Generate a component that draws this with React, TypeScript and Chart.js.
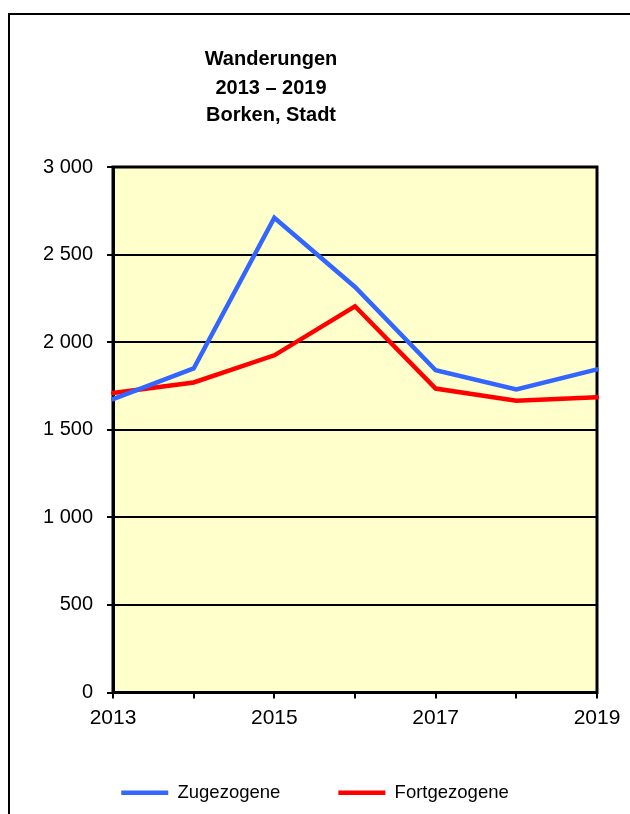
import React, { useEffect, useRef } from "react";
import { Chart, registerables } from "chart.js";

Chart.register(...registerables);

const years = ["2013", "2014", "2015", "2016", "2017", "2018", "2019"];
const zugezogene = [1675, 1850, 2710, 2315, 1840, 1730, 1845];
const fortgezogene = [1710, 1770, 1925, 2205, 1735, 1665, 1685];
const titleLines = ["Wanderungen", "2013 – 2019", "Borken, Stadt"];
const yMin = 0;
const yMax = 3000;
const yStep = 500;

const FONT = '"Liberation Sans", Arial, sans-serif';

function fmt(v: number): string {
  return String(v).replace(/\B(?=(\d{3})+(?!\d))/g, " ");
}

export default function App() {
  const ref = useRef<HTMLCanvasElement | null>(null);

  useEffect(() => {
    if (!ref.current) return;
    const bgPlugin = {
      id: "bgPlugin",
      beforeDraw(chart: any) {
        const { ctx, chartArea: a } = chart;
        ctx.save();
        ctx.fillStyle = "#FFFFCC";
        ctx.fillRect(a.left, a.top, a.right - a.left, a.bottom - a.top);
        ctx.restore();
      },
      beforeDatasetsDraw(chart: any) {
        const { ctx, chartArea: a } = chart;
        ctx.save();
        ctx.strokeStyle = "#000";
        ctx.lineWidth = 3;
        ctx.strokeRect(a.left, a.top, a.right - a.left, a.bottom - a.top);
        ctx.restore();
      },
      afterDraw(chart: any) {
        const { ctx } = chart;
        ctx.save();
        ctx.fillStyle = "#000";
        ctx.font = `bold 20px ${FONT}`;
        ctx.textAlign = "center";
        ctx.textBaseline = "alphabetic";
        const baselines = [65, 94, 120.5];
        titleLines.forEach((t, i) => ctx.fillText(t, 271, baselines[i]));
        ctx.restore();
      },
    };

    const chart = new Chart(ref.current, {
      type: "line",
      data: {
        labels: years,
        datasets: [
          {
            label: "Zugezogene",
            data: zugezogene,
            borderColor: "#3366FF",
            backgroundColor: "#3366FF",
            borderWidth: 4.5,
            pointRadius: 0,
            tension: 0,
            borderCapStyle: "round",
          },
          {
            label: "Fortgezogene",
            data: fortgezogene,
            borderColor: "#FF0000",
            backgroundColor: "#FF0000",
            borderWidth: 4.5,
            pointRadius: 0,
            tension: 0,
            borderCapStyle: "round",
          },
        ],
      },
      options: {
        animation: false,
        responsive: true,
        maintainAspectRatio: false,
        layout: { padding: { left: 33, right: 33, top: 167, bottom: 2 } },
        plugins: {
          title: { display: false },
          tooltip: { enabled: false },
          legend: {
            position: "bottom",
            labels: {
              usePointStyle: true,
              pointStyle: "line",
              pointStyleWidth: 47,
              padding: 58,
              color: "#000",
              font: { family: FONT, size: 18.5 },
            },
          },
        },
        scales: {
          x: {
            type: "category",
            offset: false,
            afterFit: (s: any) => {
              s.height = 33;
            },
            grid: {
              drawOnChartArea: false,
              drawTicks: true,
              tickLength: 6,
              color: "#000",
              lineWidth: 2,
            },
            border: { display: true, color: "#000", width: 3 },
            ticks: {
              autoSkip: false,
              maxRotation: 0,
              padding: 7,
              color: "#000",
              font: { family: FONT, size: 21 },
              callback: (_v: any, i: number) => (i % 2 === 0 ? years[i] : ""),
            },
          },
          y: {
            min: yMin,
            max: yMax,
            afterFit: (s: any) => {
              s.width = 80;
            },
            grid: {
              drawTicks: true,
              tickLength: 6,
              color: "#000",
              lineWidth: 2,
            },
            border: { display: true, color: "#000", width: 3 },
            ticks: {
              stepSize: yStep,
              padding: 14,
              color: "#000",
              font: { family: FONT, size: 20 },
              callback: (v: any) => fmt(Number(v)),
            },
          },
        },
      },
      plugins: [bgPlugin],
    });
    return () => chart.destroy();
  }, []);

  return (
    <div
      style={{
        position: "absolute",
        left: 0,
        top: 0,
        width: 630,
        height: 814,
        overflow: "hidden",
        background: "#fff",
      }}
    >
      <div
        style={{
          position: "absolute",
          left: 8,
          top: 13,
          width: 700,
          height: 900,
          border: "2px solid #000",
        }}
      />
      <div style={{ position: "absolute", left: 0, top: 0, width: 630, height: 814 }}>
        <canvas ref={ref} />
      </div>
    </div>
  );
}
